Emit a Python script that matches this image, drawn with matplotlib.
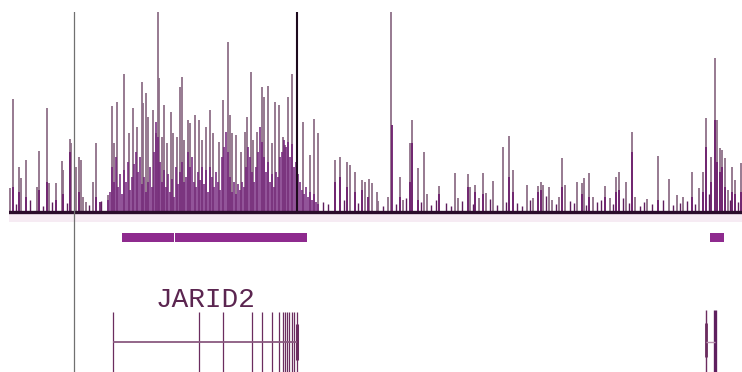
import numpy as np
import matplotlib
matplotlib.use('Agg')
import matplotlib.pyplot as plt

# signal track: tall (max) bars, positions in track units, heights
peak_pos = [10, 13, 19, 21, 26, 37, 39, 47, 49, 56, 62, 63, 70, 71, 76, 79, 81, 83, 86, 93, 96,
            108, 112, 114, 117, 124, 129, 133, 137, 142, 143, 146, 148, 153, 156, 158, 159, 162,
            164, 167, 171, 173, 177, 180, 182, 184, 188, 190, 195, 199, 202, 206, 210, 213, 219,
            223, 228, 230, 232, 236, 241, 245, 247, 251, 253, 257, 262, 264, 268, 272, 275, 279,
            283, 285, 288, 292, 297, 303, 310, 314, 318, 335, 340, 347, 350, 355, 362, 365, 369,
            372, 377, 378, 388, 391, 400, 403, 410, 412, 418, 424, 427, 439, 455, 458, 468, 470,
            475, 479, 483, 486, 493, 503, 509, 513, 527, 533, 538, 541, 543, 549, 552, 559, 562,
            565, 577, 582, 584, 589, 593, 605, 610, 616, 619, 626, 632, 635, 647, 658, 669, 677,
            683, 692, 699, 703, 706, 711, 715, 717, 720, 722, 725, 728, 732, 735, 741]
peak_max = [24, 113, 45, 34, 52, 25, 61, 104, 29, 29, 51, 42, 73, 69, 45, 55, 52, 15, 10, 30, 69,
            17, 106, 69, 110, 138, 79, 104, 85, 130, 109, 119, 95, 102, 79, 200, 134, 75,
            107, 69, 100, 79, 75, 125, 135, 72, 92, 89, 97, 92, 72, 85, 102, 79, 70,
            112, 170, 97, 79, 77, 60, 80, 95, 140, 72, 80, 125, 115, 126, 69, 110, 107,
            75, 67, 115, 138, 200, 90, 57, 93, 79, 52, 55, 50, 47, 40, 32, 30, 33,
            29, 20, 11, 15, 200, 35, 12, 69, 92, 44, 60, 18, 26, 39, 14, 38, 25,
            27, 14, 39, 19, 31, 65, 76, 42, 27, 14, 26, 30, 27, 25, 12, 15, 54,
            27, 30, 29, 34, 39, 15, 26, 14, 35, 40, 30, 80, 15, 13, 56, 33, 17,
            15, 40, 24, 40, 94, 55, 154, 92, 64, 62, 54, 22, 45, 32, 49]

# dense darker signal over the gene body
dark_pos = np.arange(108, 320, 2)
dark_h = [12, 20, 45, 30, 55, 25, 38, 18, 42, 30, 50, 22, 35, 48, 60, 40, 55, 28, 35, 20,
          30, 45, 25, 60, 90, 75, 50, 30, 42, 25, 38, 20, 33, 15, 45, 28, 40, 50, 30, 35,
          60, 45, 55, 30, 25, 40, 32, 45, 28, 42, 20, 45, 35, 25, 40, 30, 22, 55, 65, 80,
          60, 35, 20, 30, 18, 28, 22, 30, 25, 45, 65, 55, 40, 30, 45, 60, 85, 70, 55, 40,
          50, 30, 38, 25, 40, 35, 55, 60, 72, 65, 70, 55, 68, 45, 50, 38, 30, 22, 18, 25,
          15, 20, 12, 18, 10, 8]

# darker lower parts elsewhere
dark2_pos = [13, 19, 26, 39, 47, 56, 63, 70, 79, 96, 100, 335, 340, 347, 355, 362, 368, 392,
             400, 410, 412, 418, 439, 468, 475, 483, 509, 513, 538, 541, 562, 582, 589, 605,
             616, 619, 632, 658, 692, 703, 706, 711, 715, 717, 720, 722, 725, 732, 735, 741]
dark2_h = [25, 20, 15, 22, 30, 12, 18, 60, 20, 15, 10, 30, 35, 25, 20, 22, 15, 87,
           15, 30, 69, 12, 18, 25, 20, 18, 35, 20, 20, 22, 25, 18, 15, 15,
           20, 22, 60, 12, 15, 20, 65, 30, 92, 50, 40, 45, 25, 20, 18, 20]

# low background signal along the baseline
low_pos = [16, 30, 43, 52, 67, 89, 101, 323, 328, 344, 358, 383, 396, 406, 421, 431, 436, 446,
           451, 462, 473, 490, 497, 506, 517, 522, 530, 546, 556, 570, 574, 586, 597, 601, 613,
           623, 629, 640, 644, 652, 663, 673, 680, 687, 695, 709, 730, 738]
low_h = [8, 12, 6, 10, 9, 7, 11, 10, 8, 12, 9, 6, 8, 14, 10, 7, 12, 9,
         6, 11, 8, 13, 7, 10, 9, 6, 12, 16, 8, 11, 9, 7, 10, 12, 8,
         14, 9, 6, 10, 8, 12, 7, 9, 11, 8, 18, 12, 10]

# annotation track (purple boxes) and gene model
box_start = [122, 175, 710]
box_end = [174, 307, 724]
gene_name = 'JARID2'
jarid2_exons = [113, 199, 223, 252, 262, 272, 279, 283, 285, 287, 289, 292, 294, 297]
right_exons = [706, 715]
marker_pos = 74
black_peak = 297

fig = plt.figure(figsize=(7.42, 3.72), dpi=100)
ax = fig.add_axes([9 / 742, 150 / 372, 733 / 742, 210 / 372])
ax.axhspan(-10, -2, color='#f6ebf3', lw=0)
ax.vlines(peak_pos, 0, peak_max, colors='#8f6f88', lw=1.3)
ax.vlines(dark_pos, 0, dark_h, colors='#72207a', lw=1.1)
ax.vlines(dark2_pos, 0, dark2_h, colors='#6e1f6e', lw=1.3)
ax.vlines(low_pos, 0, low_h, colors='#5e1d5c', lw=1.0)
ax.vlines([black_peak], 0, [200], colors='#1e0a1e', lw=1.5)
ax.axhline(0, color='#2a0c2a', lw=2.4)
ax.axvline(marker_pos, color='#707070', lw=0.9)
ax.set_xlim(9, 742)
ax.set_ylim(-10, 200)
ax.axis('off')

gx = fig.add_axes([9 / 742, 0, 733 / 742, 150 / 372])
for s, e in zip(box_start, box_end):
    gx.fill_between([s, e], 233, 242, color='#8e2a8e', lw=0)
gx.vlines(jarid2_exons, 312, 372, colors='#6b2c5f', lw=0.9)
gx.vlines([jarid2_exons[-1]], 324, 360, colors='#6b2c5f', lw=2.2)
gx.hlines(342, jarid2_exons[0], jarid2_exons[-1], colors='#8a5a80', lw=1.3)
gx.vlines(right_exons[0], 310, 372, colors='#6b2c5f', lw=1.0)
gx.vlines(right_exons[0], 323, 357, colors='#6b2c5f', lw=2.0)
gx.vlines(right_exons[1], 310, 372, colors='#5e1f5e', lw=2.4)
gx.hlines(342, right_exons[0], right_exons[1], colors='#b895b0', lw=1.0)
gx.text(205, 300, gene_name, ha='center', va='center', fontsize=20,
        family='Liberation Mono', color='#5b2550')
gx.axvline(marker_pos, color='#707070', lw=0.9)
gx.set_xlim(9, 742)
gx.set_ylim(372, 222)
gx.axis('off')

fig.savefig('out.png', dpi=100, facecolor='white')
